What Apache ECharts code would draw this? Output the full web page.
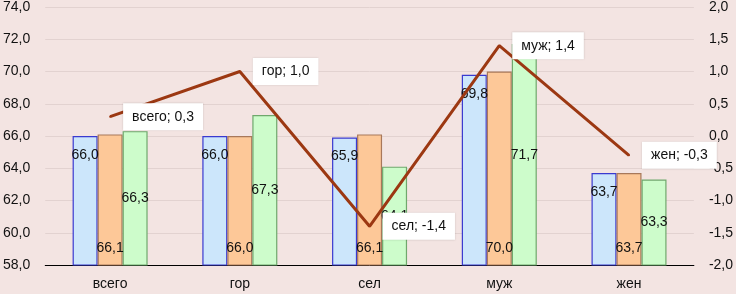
<!DOCTYPE html>
<html>
<head>
<meta charset="utf-8">
<script src="https://cdn.jsdelivr.net/npm/echarts@6/dist/echarts.min.js"></script>
<style>
  html, body { margin: 0; padding: 0; background: #f3e4e2; }
  #chart { width: 736px; height: 294px; }
</style>
</head>
<body>
<div id="chart"></div>
<script>
// данные
const categories = ['всего', 'гор', 'сел', 'муж', 'жен']
const seriesA = [66.0, 66.0, 65.9, 69.8, 63.7]
const seriesB = [66.1, 66.0, 66.1, 70.0, 63.7]
const seriesC = [66.3, 67.3, 64.1, 71.7, 63.3]
const diffValues = [0.3, 1.0, -1.4, 1.4, -0.3]

const fmt = v => v.toFixed(1).replace('.', ',')
const labelFont = { fontFamily: 'Liberation Sans', fontSize: 14, color: '#111' }

const barSeries = (data, fill, border, labelPos, dist) => ({
  type: 'bar',
  data: data,
  barWidth: 25,
  barGap: '0%',
  itemStyle: { color: fill, borderColor: border, borderWidth: 1.2 },
  label: {
    show: true,
    position: labelPos,
    distance: dist,
    ...labelFont,
    formatter: p => fmt(p.value)
  }
})

const chart = echarts.init(document.getElementById('chart'))
chart.setOption({
  backgroundColor: '#f3e4e2',
  animation: false,
  grid: { left: 44, right: 42, top: 5, bottom: 29 },
  xAxis: {
    type: 'category',
    data: categories,
    axisLine: { onZero: false, lineStyle: { color: '#000', width: 1 } },
    axisTick: { show: false },
    axisLabel: { ...labelFont, margin: 12 }
  },
  yAxis: [
    {
      type: 'value',
      min: 58, max: 74, interval: 2,
      axisLine: { show: false },
      axisTick: { show: false },
      splitLine: { lineStyle: { color: '#e2d2d0', width: 1 } },
      axisLabel: { ...labelFont, margin: 15, formatter: v => fmt(v) }
    },
    {
      type: 'value',
      min: -2, max: 2, interval: 0.5,
      axisLine: { show: false },
      axisTick: { show: false },
      splitLine: { show: false },
      axisLabel: { ...labelFont, margin: 15, formatter: v => fmt(v) }
    }
  ],
  series: [
    barSeries(seriesA, '#cce6fb', '#3a3ad0', 'insideTop', 12),
    barSeries(seriesB, '#fdc898', '#a8785a', 'insideBottom', 10),
    barSeries(seriesC, '#cdfccb', '#6fa86c', 'inside', 0),
    {
      type: 'line',
      yAxisIndex: 1,
      data: diffValues,
      symbol: 'circle',
      symbolSize: 2,
      showSymbol: true,
      itemStyle: { color: '#9c3812' },
      z: 5,
      lineStyle: { color: '#9c3812', width: 3 },
      label: {
        show: true,
        position: 'right',
        distance: 12,
        ...labelFont,
        backgroundColor: '#fff',
        padding: [7, 9, 6, 9],
        shadowColor: 'rgba(0,0,0,0.15)',
        shadowBlur: 2,
        formatter: p => p.name + '; ' + fmt(p.value)
      }
    }
  ]
})
</script>
</body>
</html>
